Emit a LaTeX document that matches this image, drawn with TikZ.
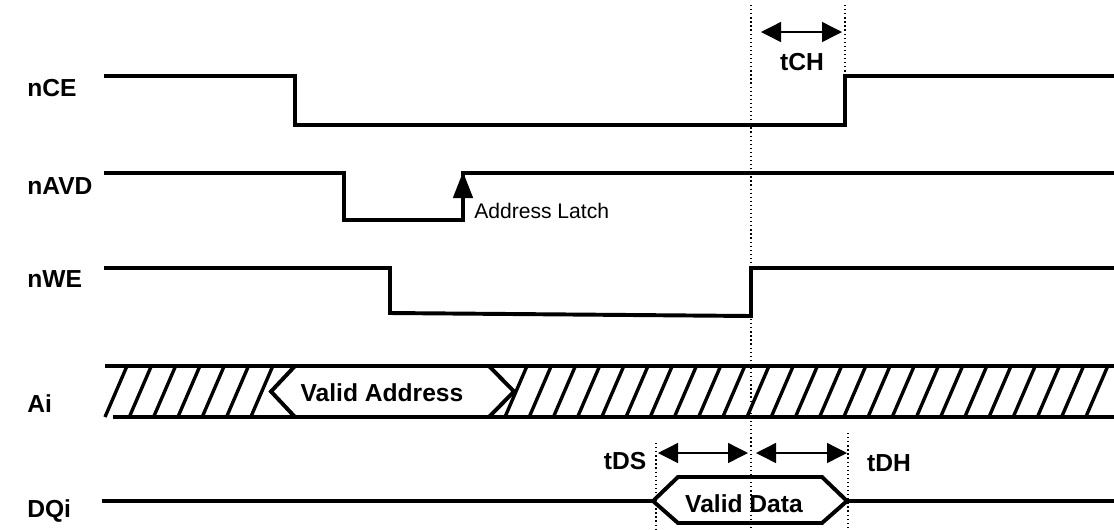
\documentclass[tikz,border=0pt]{standalone}
\usepackage{fontspec}
\setmainfont{Liberation Sans}
\usetikzlibrary{arrows.meta}

\begin{document}
\begin{tikzpicture}[x=0.025cm, y=-0.025cm,
		sig/.style={line width=2.8pt, line join=miter},
		hatch/.style={line width=2.4pt},
		guide/.style={dotted, line width=0.9pt},
		tmark/.style={line width=1pt, {Triangle[length=0.5cm,width=0.5cm]}-{Triangle[length=0.5cm,width=0.5cm]}},
		lbl/.style={font=\bfseries\fontsize{17.5}{20}\selectfont, inner sep=0pt}]
		\useasboundingbox (0,0) rectangle (1114,529);

		\node[lbl, anchor=west] (nce) at (27,88) {nCE};
		\node[lbl, anchor=west] (navd) at (27,186) {nAVD};
		\node[lbl, anchor=west] (nwe) at (27,279) {nWE};
		\node[lbl, anchor=west] (ai) at (27,404) {Ai};
		\node[lbl, anchor=west] (dqi) at (27,511) {DQi};

		\draw[sig] (104,76) -- (295,76) -- (295,125) -- (845,125) -- (845,76) -- (1114,76);
		\draw[sig] (104,173) -- (344,173) -- (344,220) -- (463,220) -- (463,173) -- (1114,173);
		\draw[sig] (104,268) -- (390,268) -- (390,313) -- (751,316) -- (751,268) -- (1114,268);

		\draw[line width=1pt, -{Triangle[length=0.65cm,width=0.5cm]}] (463,205) -- (463,172);
		\node[font=\fontsize{15}{17}\selectfont, inner sep=0pt, anchor=west] (latch) at (474,211) {Address Latch};

		\draw[sig] (105,366) -- (1114,366);
		\draw[sig] (113,417) -- (1114,417);
		\foreach \x in {105,129.3,...,260}
			\draw[hatch] (\x,417) -- ++(22,-51);
		\foreach \x in {505,529.2,...,1095}
			\draw[hatch] (\x,417) -- ++(22,-51);
		\draw[sig] (295,366) -- (271,391.5) -- (295,417);
		\draw[sig] (489,366) -- (514,391.5) -- (489,417);
		\node[lbl] (vaddr) at (382,393) {Valid Address};

		\draw[sig] (102,501) -- (653,501);
		\draw[sig] (847,501) -- (1114,501);
		\draw[sig] (653,501) -- (678,477) -- (822,477) -- (847,501) -- (822,523) -- (678,523) -- cycle;
		\node[lbl] (vdata) at (744,504) {Valid Data};

		\draw[guide] (751,5) -- (751,529);
		\draw[guide] (845,5) -- (845,76);
		\draw[guide] (656,443) -- (656,529);
		\draw[guide] (848,433) -- (848,529);

		\draw[tmark] (761,32) -- (842,32);
		\node[lbl] (tch) at (802,62) {tCH};
		\draw[tmark] (658,453) -- (748,453);
		\node[lbl] (tds) at (625,461) {tDS};
		\draw[tmark] (756,453) -- (847,453);
		\node[lbl] (tdh) at (889,463) {tDH};

	\end{tikzpicture}
\end{document}
